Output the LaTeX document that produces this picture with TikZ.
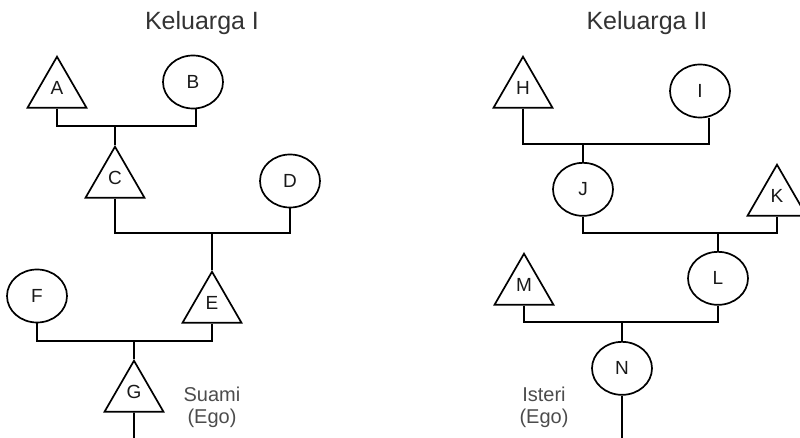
\documentclass[tikz,border=0pt]{standalone}
\usepackage{fontspec}
\setmainfont{Liberation Sans}
\usepackage{tikz}
\usetikzlibrary{positioning,shapes.geometric}

\begin{document}
\begin{tikzpicture}[
  x=1pt, y=1pt, line width=1.7pt,
  malenode/.style={regular polygon, regular polygon sides=3, draw=black, minimum size=68pt, inner sep=0pt, text depth=6pt, text=black!90, font=\fontsize{19}{19}\selectfont},
  femalenode/.style={ellipse, draw=black, minimum width=60pt, minimum height=53pt, inner sep=0pt, text=black!90, font=\fontsize{19}{19}\selectfont},
  titlenode/.style={text=black!80, font=\fontsize{25}{25}\selectfont},
  egonode/.style={align=center, text=black!70, font=\fontsize{20}{22}\selectfont}
]
\useasboundingbox (0,0) rectangle (800,438);

%Titles
\node[titlenode] (famI) at (202,415) {Keluarga I};
\node[titlenode] (famII) at (647,415) {Keluarga II};

%Keluarga I
\node[malenode, anchor=north] (A) at (57,383) {A};
\node[femalenode] (B) at (193,356) {B};
\coordinate (ab) at (115,312);
\node[malenode, below=19pt of ab] (C) {C};
\node[femalenode] (D) at (290,257) {D};
\coordinate (cd) at (212,205);
\node[malenode, below=37pt of cd] (E) {E};
\node[femalenode] (F) at (37,142) {F};
\coordinate (fe) at (134,97);
\node[malenode, below=18pt of fe] (G) {G};
\coordinate (g0) at (134,0);
\node[egonode] (suami) at (212,31) {Suami\\(Ego)};

%Keluarga II
\node[malenode, anchor=north] (H) at (523,383) {H};
\node[femalenode] (I) at (700,347) {I};
\coordinate (hi) at (583,294);
\node[femalenode, below=18pt of hi] (J) {J};
\node[malenode, anchor=north] (K) at (777,275) {K};
\coordinate (jk) at (718,205);
\node[femalenode, below=18pt of jk] (L) {L};
\node[malenode, anchor=north] (M) at (524,186) {M};
\coordinate (ml) at (622,116);
\node[femalenode, below=19pt of ml] (N) {N};
\coordinate (n0) at (622,0);
\node[egonode] (isteri) at (544,31) {Isteri\\(Ego)};

%Lines
\draw (A.south) |- (ab) -| ([xshift=3pt]B.south);
\draw (ab) -- (C.north);
\draw (C.south) |- (cd) -| (D.south);
\draw (cd) -- (E.north);
\draw (F.south) |- (fe) -| (E.south);
\draw (fe) -- (G.north);
\draw (G.south) -- (g0);

\draw (H.south) |- (hi) -| ([xshift=9pt]I.south);
\draw (hi) -- (J.north);
\draw (J.south) |- (jk) -| (K.south);
\draw (jk) -- (L.north);
\draw (M.south) |- (ml) -| (L.south);
\draw (ml) -- (N.north);
\draw (N.south) -- (n0);
\end{tikzpicture}
\end{document}
